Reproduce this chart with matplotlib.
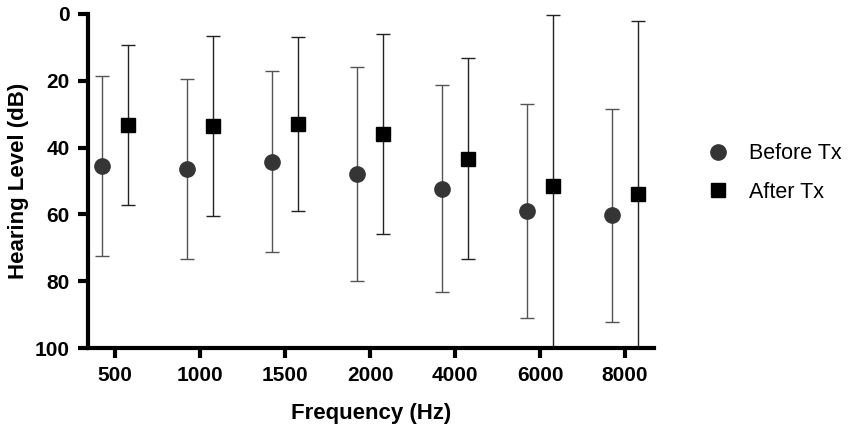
import numpy as np
import matplotlib
matplotlib.use("Agg")
import matplotlib.pyplot as plt

plt.rcParams['font.family'] = ['Liberation Sans', 'DejaVu Sans']

freqs = ["500", "1000", "1500", "2000", "4000", "6000", "8000"]
before_mean = [45.5, 46.4, 44.2, 47.9, 52.3, 59.0, 60.3]
before_sd = [27.0, 27.0, 27.0, 32.0, 31.0, 32.0, 32.0]
after_mean = [33.2, 33.5, 32.9, 36.0, 43.3, 51.4, 54.0]
after_sd = [24.0, 27.0, 26.0, 30.0, 30.0, 51.0, 52.0]

x = np.arange(len(freqs))
offset = 0.15

fig = plt.figure(figsize=(8.51, 4.32), dpi=100)
ax = fig.add_axes([0.1034, 0.1944, 0.665, 0.7732])

# before treatment: gray circles, lighter error bars
ax.errorbar(x - offset, before_mean, yerr=before_sd, fmt="o", color="#353535",
            ecolor="#555555", elinewidth=1.0, capsize=5, capthick=1.0,
            markersize=11, label="Before Tx")
# after treatment: black squares
ax.errorbar(x + offset, after_mean, yerr=after_sd, fmt="s", color="black",
            ecolor="#222222", elinewidth=1.0, capsize=5, capthick=1.0,
            markersize=10, label="After Tx")

ax.set_ylim(100, 0)
ax.set_xlim(-0.32, 6.34)
ax.set_yticks([0, 20, 40, 60, 80, 100])
ax.set_xticks(x)
ax.set_xticklabels(freqs)

for side in ["top", "right"]:
    ax.spines[side].set_visible(False)
for side in ["left", "bottom"]:
    ax.spines[side].set_linewidth(3)
ax.tick_params(axis="both", direction="out", length=7, width=3,
               labelsize=15, pad=6)
for lab in ax.get_xticklabels() + ax.get_yticklabels():
    lab.set_fontweight("bold")

ax.set_xlabel("Frequency (Hz)", fontsize=16, fontweight="bold")
ax.set_ylabel("Hearing Level (dB)", fontsize=16, fontweight="bold")
ax.xaxis.set_label_coords(0.5, -0.165)
ax.yaxis.set_label_coords(-0.104, 0.5)

# legend without the error bar lines
handles, labels = ax.get_legend_handles_labels()
handles = [h[0] for h in handles]
ax.legend(handles, labels, loc="center left", bbox_to_anchor=(1.06, 0.524),
          frameon=False, fontsize=15.5, handlelength=1.0, handletextpad=0.95,
          labelspacing=0.8)

fig.savefig("out.png", dpi=100)
